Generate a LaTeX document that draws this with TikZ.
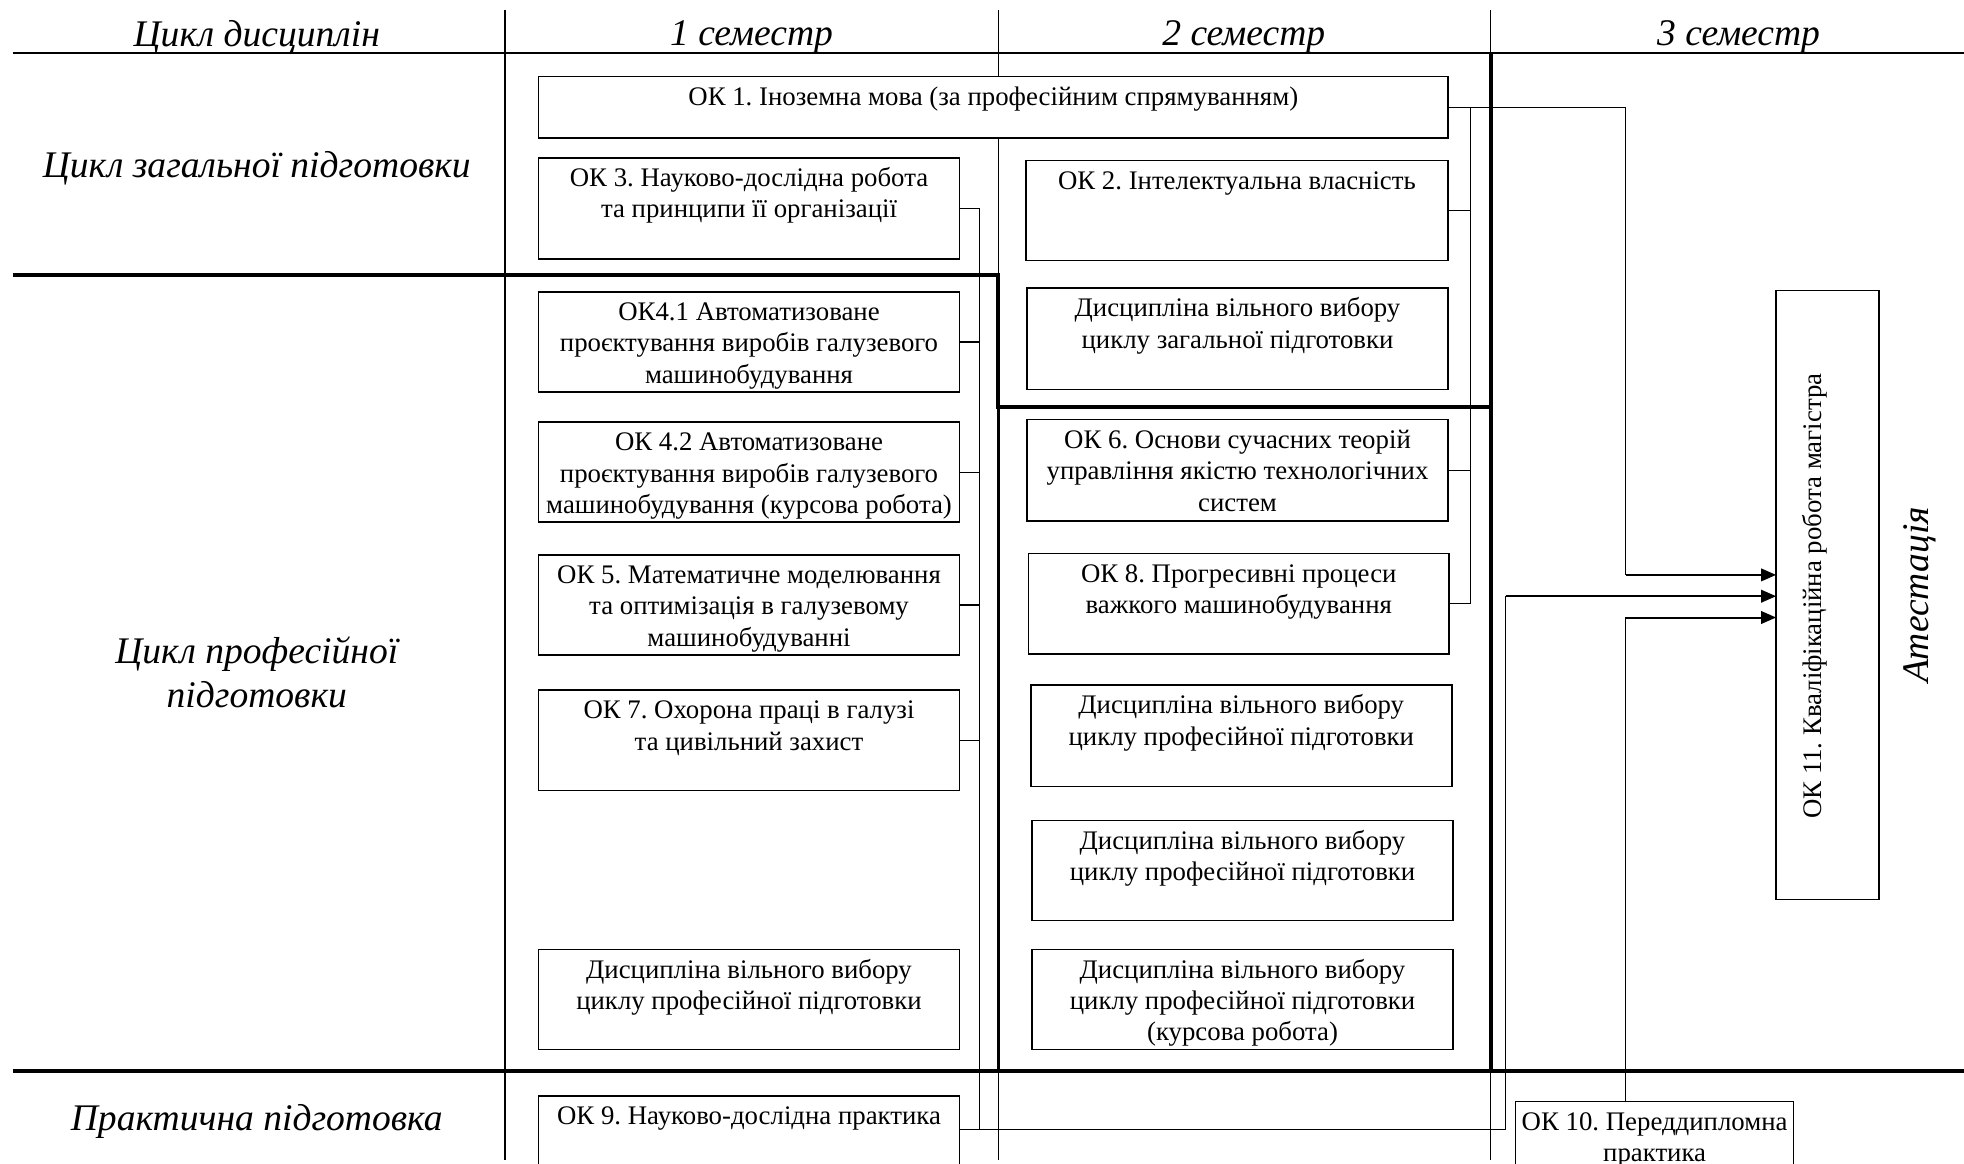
\documentclass[tikz,border=0pt]{standalone}
\usepackage{fontspec}
\setmainfont{Liberation Serif}
\usetikzlibrary{arrows.meta}
\frenchspacing
\newcommand\boxfont{\fontsize{10.7}{12.5}\selectfont}
\newcommand\hfont{\fontsize{15}{17.5}\selectfont\itshape}
\tikzset{
  box/.style={draw, line width=0.65pt, fill=white, inner sep=0pt, outer sep=0pt, anchor=north west, font=\boxfont},
  hdr/.style={font=\hfont, inner sep=0pt, anchor=base},
  thinl/.style={line width=0.6pt},
  thickl/.style={line width=1.6pt},
  conn/.style={line width=0.45pt},
  arr/.style={line width=0.8pt, -{Triangle[length=6pt,width=5pt]}},
}
\newcommand\bx[6]{\node[box] (#1) at (#2,#3) {\parbox[c][\dimexpr(#5pt-#3pt)/2\relax][t]{\dimexpr(#4pt-#2pt)/2\relax}{\centering\frenchspacing\rule{0pt}{11.5pt}#6\par}};}
\begin{document}
\begin{tikzpicture}[x=0.5pt, y=-0.5pt]
\useasboundingbox (0,0) rectangle (1568,929);
\clip (0,0) rectangle (1568,929);
% grid
\draw[thinl] (403,8) -- (403,926);
\draw[thinl] (797,8) -- (797,219.5);
\draw[line width=1.1pt] (797,325) -- (797,855);
\draw[thinl] (797,855) -- (797,926);
\draw[thinl] (1190,8) -- (1190,42.6);
\draw[thickl] (1190,42.6) -- (1190,855);
\draw[thinl] (1190,855) -- (1190,926);
\draw[line width=0.8pt] (10,42.6) -- (1568,42.6);
\draw[thickl] (10,219.5) -- (797,219.5) -- (797,325) -- (1190,325);
\draw[thickl] (10,855) -- (1568,855);
% headers
\node[hdr] (h0) at (205,37) {Цикл дисциплін};
\node[hdr] (h1) at (600,36) {1 семестр};
\node[hdr] (h2) at (993,36) {2 семестр};
\node[hdr] (h3) at (1388,36) {3 семестр};
\node[hdr] (lz) at (205,141.5) {Цикл загальної підготовки};
\node[hdr] (lp1) at (205,530) {Цикл професійної};
\node[hdr] (lp2) at (205,564.5) {підготовки};
\node[hdr] (lpr) at (205,902.5) {Практична підготовка};
\node[font=\hfont, rotate=90, inner sep=0pt] (att) at (1533,475) {Атестація};
% boxes
\bx{ok1}{430}{61}{1156}{110}{ОК 1. Іноземна мова (за професійним спрямуванням)}
\bx{ok3}{430}{126}{766}{207}{ОК 3. Науково-дослідна робота\\ та принципи її організації}
\bx{ok41}{430}{233}{766}{313}{ОК4.1 Автоматизоване\\ проєктування виробів галузевого\\ машинобудування}
\bx{ok42}{430}{337}{766}{417}{ОК 4.2 Автоматизоване\\ проєктування виробів галузевого\\ машинобудування (курсова робота)}
\bx{ok5}{430}{443}{766}{523}{ОК 5. Математичне моделювання\\ та оптимізація в галузевому\\ машинобудуванні}
\bx{ok7}{430}{551}{766}{631}{ОК 7. Охорона праці в галузі\\ та цивільний захист}
\bx{dv1}{430}{758}{766}{838}{Дисципліна вільного вибору\\ циклу професійної підготовки}
\bx{ok9}{430}{875}{766}{955}{ОК 9. Науково-дослідна практика}
\bx{ok2}{819}{128}{1156}{208}{ОК 2. Інтелектуальна власність}
\bx{dz}{820}{230}{1156}{311}{Дисципліна вільного вибору\\ циклу загальної підготовки}
\bx{ok6}{820}{335}{1156}{416}{ОК 6. Основи сучасних теорій\\ управління якістю технологічних\\ систем}
\bx{ok8}{821}{442}{1157}{522}{ОК 8. Прогресивні процеси\\ важкого машинобудування}
\bx{dp1}{823}{547}{1159}{628}{Дисципліна вільного вибору\\ циклу професійної підготовки}
\bx{dp2}{824}{655}{1160}{735}{Дисципліна вільного вибору\\ циклу професійної підготовки}
\bx{dp3}{824}{758}{1160}{838}{Дисципліна вільного вибору\\ циклу професійної підготовки\\ (курсова робота)}
\bx{ok10}{1210}{879.5}{1432}{960}{ОК 10. Переддипломна\\ практика}
\node[box, minimum width=41pt, minimum height=243pt] (ok11) at (1418,232) {};
\node[font=\boxfont, rotate=90, inner sep=0pt] (ok11t) at (1449,476) {ОК 11. Кваліфікаційна робота магістра};
% connectors
\coordinate (b1) at (782,0);
\coordinate (b2) at (1174,0);
\coordinate (a2low) at (1202,902);
\coordinate (a2top) at (1202,476);
\coordinate (a1bend) at (1298,459);
\coordinate (a3bend) at (1297.5,493);
\foreach \n in {ok3,ok41,ok42,ok5,ok7} \draw[conn] (\n.east) -- (\n.east -| b1);
\foreach \n in {ok2,ok6,ok8} \draw[conn] (\n.east) -- (\n.east -| b2);
\draw[conn] (ok3.east -| b1) -- (a2low -| b1);
\draw[conn] (ok1.east -| b2) -- (ok8.east -| b2);
\draw[conn] (ok1.east) -| (a1bend);
\draw[arr] (a1bend) -- (a1bend -| ok11.west);
\draw[conn] (ok9.east |- a2low) -- (a2low);
\draw[line width=0.6pt] (a2low) -- (a2top);
\draw[arr] (a2top) -- (a2top -| ok11.west);
\draw[conn] (ok10.north -| a3bend) -- (a3bend);
\draw[arr] (a3bend) -- (a3bend -| ok11.west);
\end{tikzpicture}
\end{document}
